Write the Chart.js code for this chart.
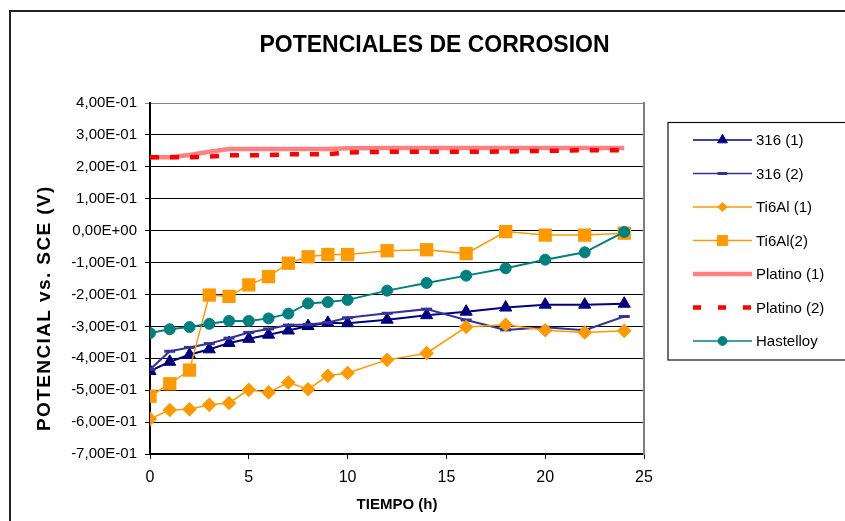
<!DOCTYPE html>
<html>
<head>
<meta charset="utf-8">
<title>Potenciales de corrosión</title>
<script src="https://cdn.jsdelivr.net/npm/chart.js@4/dist/chart.umd.min.js"></script>
<style>
  html, body { margin: 0; padding: 0; background: #ffffff; }
  #wrap { width: 845px; height: 521px; }
</style>
</head>
<body>
<div id="wrap"><canvas id="chart" width="845" height="521"></canvas></div>
<script>
// Tiempo de ensayo (h)
const hours = [0, 1, 2, 3, 4, 5, 6, 7, 8, 9, 10, 12, 14, 16, 18, 20, 22, 24];

// Potencial vs. SCE (V) de cada material
const acero316_1 = [-0.440, -0.411, -0.389, -0.372, -0.352, -0.339, -0.326, -0.313, -0.299, -0.289, -0.290, -0.279, -0.265, -0.254, -0.241, -0.232, -0.232, -0.229];
const acero316_2 = [-0.435, -0.378, -0.366, -0.354, -0.337, -0.319, -0.308, -0.296, -0.294, -0.288, -0.273, -0.259, -0.246, -0.280, -0.311, -0.303, -0.312, -0.269];
const ti6al_1 = [-0.590, -0.562, -0.560, -0.546, -0.540, -0.499, -0.507, -0.476, -0.497, -0.455, -0.446, -0.405, -0.384, -0.302, -0.295, -0.312, -0.319, -0.314];
const ti6al_2 = [-0.519, -0.480, -0.437, -0.202, -0.206, -0.170, -0.144, -0.102, -0.082, -0.075, -0.075, -0.063, -0.060, -0.072, -0.003, -0.014, -0.014, -0.008];
const platino_1 = [0.230, 0.230, 0.237, 0.247, 0.256, 0.256, 0.256, 0.256, 0.256, 0.256, 0.258, 0.259, 0.259, 0.259, 0.259, 0.259, 0.259, 0.259];
const platino_2 = [0.230, 0.230, 0.230, 0.232, 0.236, 0.236, 0.237, 0.239, 0.239, 0.240, 0.245, 0.247, 0.247, 0.247, 0.248, 0.250, 0.252, 0.252];
const hastelloy = [-0.321, -0.309, -0.302, -0.292, -0.283, -0.283, -0.275, -0.260, -0.228, -0.224, -0.217, -0.188, -0.164, -0.141, -0.118, -0.091, -0.068, -0.004];

const seriesNames = ['316 (1)', '316 (2)', 'Ti6Al (1)', 'Ti6Al(2)', 'Platino (1)', 'Platino (2)', 'Hastelloy'];

const FONT = "'Liberation Sans', Arial, Helvetica, sans-serif";

function toPoints(values) {
  return hours.map((h, i) => ({ x: h, y: values[i] }));
}

// "4,00E-01" style labels
function sciLabel(v) {
  if (Math.abs(v) < 1e-9) v = 0;
  const parts = Number(v).toExponential(2).split('e');
  const exp = parseInt(parts[1], 10);
  const expStr = (exp < 0 ? '-' : '+') + String(Math.abs(exp)).padStart(2, '0');
  return parts[0].replace('.', ',') + 'E' + expStr;
}

const datasets = [
  { label: seriesNames[0], data: toPoints(acero316_1), borderColor: '#000080', backgroundColor: '#000080',
    borderWidth: 2, pointStyle: 'triangle', pointRadius: 7, pointBorderWidth: 1, order: 6 },
  { label: seriesNames[1], data: toPoints(acero316_2), borderColor: '#333399', backgroundColor: '#333399',
    borderWidth: 2, pointStyle: 'line', pointRadius: 5.5, pointBorderWidth: 3, order: 5 },
  { label: seriesNames[2], data: toPoints(ti6al_1), borderColor: '#FF9900', backgroundColor: '#FF9900',
    borderWidth: 1.5, pointStyle: 'rectRot', pointRadius: 7.3, pointBorderWidth: 0, order: 4 },
  { label: seriesNames[3], data: toPoints(ti6al_2), borderColor: '#FF9900', backgroundColor: '#FF9900',
    borderWidth: 1.5, pointStyle: 'rect', pointRadius: 9.4, pointBorderWidth: 0, order: 3 },
  { label: seriesNames[4], data: toPoints(platino_1), borderColor: '#FF8080', backgroundColor: '#FF8080',
    borderWidth: 4.5, pointRadius: 0, order: 2 },
  { label: seriesNames[5], data: toPoints(platino_2), borderColor: '#FF0000', backgroundColor: '#FF0000',
    borderWidth: 4.5, borderDash: [9, 11], pointRadius: 0, order: 1, legendDash: [8, 17] },
  { label: seriesNames[6], data: toPoints(hastelloy), borderColor: '#008080', backgroundColor: '#008080',
    borderWidth: 2, pointStyle: 'circle', pointRadius: 5.5, pointBorderWidth: 1, order: 0 }
];

// Outer frame of the chart
const framePlugin = {
  id: 'frame',
  beforeDraw(chart) {
    const ctx = chart.ctx;
    ctx.save();
    ctx.fillStyle = '#ffffff';
    ctx.fillRect(0, 0, chart.width, chart.height);
    ctx.strokeStyle = '#222222';
    ctx.lineWidth = 2;
    ctx.beginPath();
    ctx.moveTo(10, chart.height);
    ctx.lineTo(10, 11);
    ctx.lineTo(chart.width, 11);
    ctx.stroke();
    ctx.restore();
  }
};

// Rotated title of the value axis
const yTitlePlugin = {
  id: 'yTitle',
  afterDraw(chart) {
    const ctx = chart.ctx;
    ctx.save();
    ctx.translate(45, 431);
    ctx.rotate(-Math.PI / 2);
    ctx.font = 'bold 19px ' + FONT;
    if ('letterSpacing' in ctx) ctx.letterSpacing = '1.4px';
    ctx.fillStyle = '#000000';
    ctx.textAlign = 'left';
    ctx.textBaseline = 'middle';
    ctx.fillText('POTENCIAL vs. SCE (V)', 0, 0);
    ctx.restore();
  }
};

// Boxed legend with line + marker samples
const boxLegendPlugin = {
  id: 'boxLegend',
  afterDraw(chart) {
    const ctx = chart.ctx;
    const left = 668, top = 122.5, right = 850, bottom = 360;
    ctx.save();
    ctx.strokeStyle = '#111111';
    ctx.lineWidth = 1.2;
    ctx.strokeRect(left, top, right - left, bottom - top);

    const x0 = 693, x1 = 752, xm = 722.5, xt = 756;
    chart.data.datasets.forEach((ds, i) => {
      const y = 140 + i * 33.5;
      ctx.save();
      ctx.strokeStyle = ds.borderColor;
      ctx.lineWidth = ds.borderWidth >= 4 ? 4.5 : 1.5;
      ctx.setLineDash(ds.legendDash || ds.borderDash || []);
      ctx.beginPath();
      ctx.moveTo(x0, y);
      ctx.lineTo(x1, y);
      ctx.stroke();
      ctx.setLineDash([]);
      if (ds.pointRadius > 0) {
        ctx.fillStyle = ds.backgroundColor;
        ctx.strokeStyle = ds.borderColor;
        ctx.lineWidth = ds.pointBorderWidth || 1;
        const scale = ds.pointStyle === 'rect' ? 0.82 : (ds.pointStyle === 'rectRot' ? 0.7 : (ds.pointStyle === 'line' ? 0.9 : 0.8));
        Chart.helpers.drawPoint(ctx, {
          pointStyle: ds.pointStyle,
          rotation: 0,
          radius: ds.pointRadius * scale,
          borderWidth: ds.pointStyle === 'line' ? 3 : (ds.pointBorderWidth || 0)
        }, xm, y);
      }
      ctx.restore();
      ctx.fillStyle = '#000000';
      ctx.font = '15px ' + FONT;
      ctx.textAlign = 'left';
      ctx.textBaseline = 'middle';
      ctx.fillText(ds.label, xt, y + 1);
    });
    ctx.restore();
  }
};

new Chart(document.getElementById('chart'), {
  type: 'line',
  data: { datasets },
  plugins: [framePlugin, yTitlePlugin, boxLegendPlugin],
  options: {
    responsive: false,
    animation: false,
    devicePixelRatio: 1,
    layout: { padding: { left: 24, right: 0, top: 0, bottom: 0 } },
    elements: { line: { tension: 0 } },
    plugins: {
      legend: { display: false },
      tooltip: { enabled: false },
      title: {
        display: true,
        text: 'POTENCIALES DE CORROSION',
        color: '#000000',
        font: { family: FONT, size: 23, weight: 'bold', lineHeight: 1.2 },
        padding: { top: 32, bottom: 43.4 }
      }
    },
    scales: {
      x: {
        type: 'linear',
        position: 'bottom',
        min: 0,
        max: 25,
        afterFit(scale) { scale.height = 67; },
        ticks: { stepSize: 5, color: '#000000', padding: 9, font: { family: FONT, size: 16 } },
        grid: { drawOnChartArea: false, drawTicks: true, tickLength: 5, color: '#000000', lineWidth: 1 },
        border: { display: true, color: '#000000', width: 2 },
        title: {
          display: true,
          text: 'TIEMPO (h)',
          color: '#000000',
          font: { family: FONT, size: 15, weight: 'bold', lineHeight: 1.2 },
          padding: { top: 0, bottom: 7 }
        }
      },
      y: {
        type: 'linear',
        position: 'left',
        min: -0.7,
        max: 0.4,
        afterFit(scale) { scale.width = 126; },
        ticks: { stepSize: 0.1, color: '#000000', padding: 8, font: { family: FONT, size: 15 }, callback: (v) => sciLabel(v) },
        grid: {
          color: (c) => (c.tick && Math.abs(c.tick.value - 0.4) < 1e-6) ? '#808080' : '#000000',
          lineWidth: 1,
          drawTicks: true,
          tickLength: 5
        },
        border: { display: true, color: '#000000', width: 2 }
      },
      yRight: {
        type: 'linear',
        position: 'right',
        min: -0.7,
        max: 0.4,
        afterFit(scale) { scale.width = 201; },
        ticks: { display: false },
        grid: { display: false, drawTicks: false },
        border: { display: true, color: '#808080', width: 2 }
      }
    }
  }
});
</script>
</body>
</html>
